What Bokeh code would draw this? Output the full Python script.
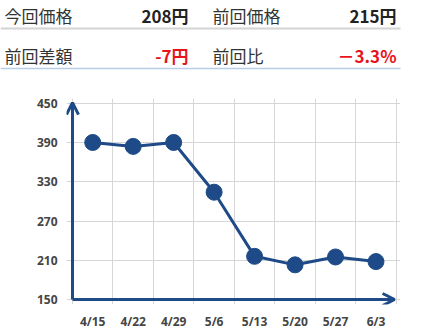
from bokeh.plotting import figure
from bokeh.layouts import column
from bokeh.models import Range1d, FixedTicker, Arrow, OpenHead, ColumnDataSource
from bokeh.core.properties import value
from bokeh.embed import file_html
from bokeh.resources import INLINE

# ---- data ----
dates = ["4/15", "4/22", "4/29", "5/6", "5/13", "5/20", "5/27", "6/3"]
prices = [390, 384, 390, 314, 216, 203, 215, 208]
y_ticks = [150, 210, 270, 330, 390, 450]

row_labels = [["今回価格", "前回価格"], ["前回差額", "前回比"]]
row_values = [["208円", "215円"], ["-7円", "－3.3%"]]
row_value_colors = [["#222222", "#222222"], ["#e8141b", "#e8141b"]]

NAVY = "#1e4b87"
JP = "Noto Sans CJK JP"

# ---- top table ----
t = figure(width=428, height=80, x_range=Range1d(0, 428), y_range=Range1d(80, 0),
           output_backend="svg", toolbar_location=None, min_border=0,
           x_axis_location=None, y_axis_location=None,
           outline_line_color=None, background_fill_color="white")
t.frame_align = False
t.grid.visible = False
row_y = [15, 55]
col_lx = [4, 212]
col_rx = [188, 396]
for r in range(2):
    for c in range(2):
        t.text(x=[col_lx[c]], y=[row_y[r]], text=[row_labels[r][c]],
               text_font=value(JP), text_font_size="17px", text_color="#333333",
               text_align="left", text_baseline="middle")
        t.text(x=[col_rx[c]], y=[row_y[r]], text=[row_values[r][c]],
               text_font=value(JP), text_font_size="17px", text_font_style="bold",
               text_color=row_value_colors[r][c],
               text_align="right", text_baseline="middle")
t.segment(x0=[0], y0=[28], x1=[400], y1=[28], line_color="#d4d4d4", line_width=2)
t.segment(x0=[0], y0=[68], x1=[400], y1=[68], line_color="#b9cde6", line_width=1.5)

# ---- chart ----
n = len(dates)
xs = [i + 0.5 for i in range(n)]
src = ColumnDataSource(dict(x=xs, y=prices))

p = figure(width=428, height=254,
           x_range=Range1d(-0.148, n + 0.106), y_range=Range1d(142.4, 457.2),
           output_backend="svg", toolbar_location=None,
           min_border_left=66, min_border_right=28, min_border_top=18, min_border_bottom=30,
           outline_line_color=None, background_fill_color="white")
p.frame_align = False

p.xaxis.ticker = FixedTicker(ticks=xs)
p.xaxis.major_label_overrides = {x: d for x, d in zip(xs, dates)}
p.yaxis.ticker = FixedTicker(ticks=y_ticks)
for ax in (p.xaxis, p.yaxis):
    ax.axis_line_color = None
    ax.major_tick_line_color = None
    ax.minor_tick_line_color = None
    ax.major_tick_out = 0
    ax.major_label_text_font = "Open Sans"
    ax.major_label_text_font_size = "12px"
    ax.major_label_text_font_style = "bold"
    ax.major_label_text_color = "#454545"
p.yaxis.major_label_standoff = 9
p.xaxis.major_label_standoff = 8

p.xgrid.ticker = FixedTicker(ticks=list(range(n + 1)))
p.ygrid.ticker = FixedTicker(ticks=y_ticks)
p.grid.grid_line_color = "#d6d6d6"
p.grid.grid_line_width = 1

# axis arrows
p.add_layout(Arrow(x_start=0, y_start=y_ticks[0], x_end=0, y_end=y_ticks[-1] + 1,
                   line_color=NAVY, line_width=3,
                   end=OpenHead(size=12, line_color=NAVY, line_width=3)))
p.add_layout(Arrow(x_start=0, y_start=y_ticks[0], x_end=n - 0.04, y_end=y_ticks[0],
                   line_color=NAVY, line_width=3,
                   end=OpenHead(size=12, line_color=NAVY, line_width=3)))

p.line("x", "y", source=src, line_color=NAVY, line_width=3)
p.scatter("x", "y", source=src, size=16, fill_color=NAVY, line_color=NAVY)

layout = column(t, p, spacing=0)
open("out.html", "w").write(file_html(layout, INLINE))
